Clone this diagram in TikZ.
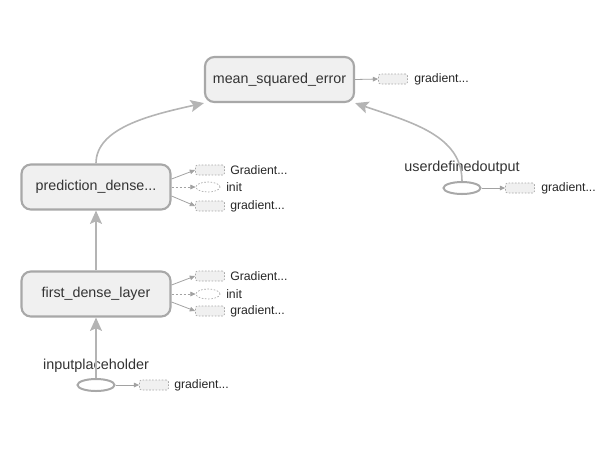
\documentclass[tikz,border=0pt]{standalone}
\usepackage{fontspec}
\setmainfont{Liberation Sans}
\usetikzlibrary{arrows.meta,shapes.geometric}
\definecolor{edgec}{HTML}{B4B4B4}
\definecolor{nodeb}{HTML}{A8A8A8}
\definecolor{nodef}{HTML}{F0F0F0}
\definecolor{txt}{HTML}{333333}
\tikzset{
  opbox/.style={draw=nodeb, line width=1.6pt, fill=nodef, rounded corners=7pt,
    minimum width=149*0.75pt, minimum height=45*0.75pt, inner sep=0pt,
    font=\fontsize{10.7}{12}\selectfont, text=txt},
  plainell/.style={draw=nodeb, line width=1.5pt, ellipse, minimum width=37*0.75pt, minimum height=12*0.75pt, inner sep=0pt},
  biglabel/.style={font=\fontsize{10.8}{12}\selectfont, text=txt, inner sep=0pt},
  smallbox/.style={draw=nodeb, dashed, dash pattern=on 1.2pt off 1.2pt, line width=0.5pt, fill=nodef, rounded corners=1.5pt,
    minimum width=29*0.75pt, minimum height=10*0.75pt, inner sep=0pt},
  smallell/.style={draw=nodeb, dashed, dash pattern=on 1.2pt off 1.2pt, line width=0.5pt, ellipse,
    minimum width=24*0.75pt, minimum height=10*0.75pt, inner sep=0pt},
  smalllabel/.style={font=\fontsize{9.2}{10}\selectfont, text=black!85, anchor=west, inner sep=0pt},
  bigedge/.style={draw=edgec, line width=1.2pt, -{Stealth[length=10pt,width=9pt,inset=2pt]}},
  smalledge/.style={draw=edgec!90!black, line width=0.6pt, -{Triangle[length=4pt,width=3.5pt]}},
  smalldash/.style={smalledge, dashed, dash pattern=on 1.5pt off 1.5pt},
}
\begin{document}
\begin{tikzpicture}[x=0.75pt,y=-0.75pt]
\useasboundingbox (0,0) rectangle (597,455);
% main nodes
\node[opbox] (mse) at (279.5,79.5) {mean\_squared\_error};
\node[opbox] (pred) at (96,187) {prediction\_dense...};
\node[opbox] (first) at (96,294) {first\_dense\_layer};
\node[plainell] (inp) at (96,385) {};
\node[biglabel] (inpl) at (96,366) {inputplaceholder};
\node[plainell] (uout) at (462,188) {};
\node[biglabel] (uoutl) at (462,168) {userdefinedoutput};
% small boxes for mse
\node[smallbox] (mseg) at (393,79) {};
\node[smalllabel] (msegl) at (414,79) {gradient...};
% prediction
\node[smallbox] (predG) at (210,170) {};
\node[smalllabel] (predGl) at (230,170) {Gradient...};
\node[smallell] (predI) at (208,187) {};
\node[smalllabel] (predIl) at (226,187) {init};
\node[smallbox] (predg) at (210,206) {};
\node[smalllabel] (predgl) at (230,206) {gradient...};
% first
\node[smallbox] (firstG) at (210,276) {};
\node[smalllabel] (firstGl) at (230,276) {Gradient...};
\node[smallell] (firstI) at (208,294) {};
\node[smalllabel] (firstIl) at (226,294) {init};
\node[smallbox] (firstg) at (210,311) {};
\node[smalllabel] (firstgl) at (230,311) {gradient...};
% input
\node[smallbox] (inpg) at (154,385) {};
\node[smalllabel] (inpgl) at (174,385) {gradient...};
% userdefined
\node[smallbox] (uoutg) at (520,188) {};
\node[smalllabel] (uoutgl) at (541,188) {gradient...};
% big edges
\draw[bigedge] (inp.north) -- (first.south);
\draw[bigedge] (first.north) -- (pred.south);
\draw[bigedge] (pred.north) .. controls (96,128) and (150,115) .. (mse.south west);
\draw[bigedge] (uout.north) .. controls (462,135) and (410,122) .. (mse.south east);
% small edges
\draw[smalledge] (pred.east |- 0,179) -- (predG.west);
\draw[smalldash] (pred.east) -- (predI.west);
\draw[smalledge] (pred.east |- 0,196) -- (predg.west);
\draw[smalledge] (first.east |- 0,285) -- (firstG.west);
\draw[smalldash] (first.east) -- (firstI.west);
\draw[smalledge] (first.east |- 0,302) -- (firstg.west);
\draw[smalledge] (mse.east) -- (mseg.west);
\draw[smalledge] (inp.east) -- (inpg.west);
\draw[smalledge] (uout.east) -- (uoutg.west);
\end{tikzpicture}
\end{document}
